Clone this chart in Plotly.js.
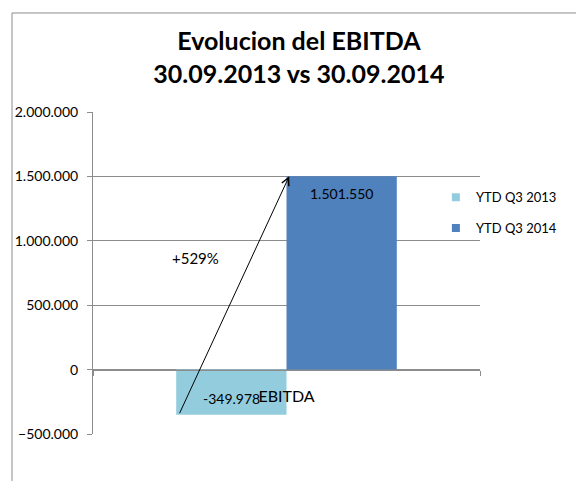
<!DOCTYPE html>
<html>
<head>
<meta charset="utf-8">
<script src="https://cdn.plot.ly/plotly-3.0.1.min.js"></script>
<style>html,body{margin:0;padding:0;background:#fff;}#chart{width:576px;height:481px;}</style>
</head>
<body>
<div id="chart"></div>
<script>
// ---- data ----
var categories = ['EBITDA'];
var seriesNames = ['YTD Q3 2013', 'YTD Q3 2014'];
var ytd2013 = [-349978];
var ytd2014 = [1501550];
var yTickVals = [-500000, 0, 500000, 1000000, 1500000, 2000000];
var titleLines = ['Evolucion del EBITDA', '30.09.2013 vs 30.09.2014'];

// ---- styling ----
var colors = ['#93CDDD', '#4F81BD'];
var gridColor = '#8c8c8c';
var FONT = 'Lato, "Open Sans", sans-serif';
var bargap = 0.43;

function fmt(v) {
  var s = Math.abs(v).toString().replace(/\B(?=(\d{3})+(?!\d))/g, '.');
  return (v < 0 ? '-' : '') + s;
}

var series = [ytd2013, ytd2014];
var traces = [];
series.forEach(function (vals, i) {
  traces.push({
    type: 'bar', x: categories, y: vals, name: seriesNames[i],
    marker: {color: colors[i], line: {width: 0}},
    showlegend: false, hoverinfo: 'skip'
  });
});
// legend entries (small square swatches)
series.forEach(function (vals, i) {
  traces.push({
    type: 'scatter', mode: 'markers', x: [null], y: [null], name: seriesNames[i],
    legendgroup: 'g' + i,
    marker: {symbol: 'square', size: 8, color: colors[i]},
    hoverinfo: 'skip'
  });
});

// data labels, placed at the bar centres
var barW = (1 - bargap) / series.length;
var annotations = [];
series.forEach(function (vals, i) {
  vals.forEach(function (v, k) {
    annotations.push({
      x: k - (1 - bargap) / 2 + barW * (i + 0.5), y: v, xref: 'x', yref: 'y',
      text: fmt(v), showarrow: false, xanchor: 'center', yanchor: 'middle',
      yshift: v >= 0 ? -17 : 16,
      font: {family: FONT, size: 14, color: '#000'}
    });
  });
});

// growth arrow from the 2013 bar bottom to the 2014 bar top
var growth = Math.round((ytd2014[0] - ytd2013[0]) / Math.abs(ytd2013[0]) * 100);
annotations.push({
  x: 0.007, y: ytd2014[0], xref: 'x', yref: 'y',
  ax: -0.278, ay: ytd2013[0], axref: 'x', ayref: 'y',
  showarrow: true, arrowhead: 5, arrowsize: 1.5, arrowwidth: 1, arrowcolor: '#000',
  standoff: 0, startstandoff: 0, text: ''
});
annotations.push({
  x: 0.266, y: 0.5466, xref: 'paper', yref: 'paper',
  xanchor: 'center', yanchor: 'middle',
  text: '+' + growth + '%', showarrow: false,
  font: {family: FONT, size: 15, color: '#000'}
});

var layout = {
  width: 576, height: 481,
  margin: {l: 93, r: 96, t: 112, b: 47},
  paper_bgcolor: '#fff', plot_bgcolor: '#fff',
  separators: ',.',
  barmode: 'group', bargap: bargap, bargroupgap: 0,
  title: {
    text: titleLines.join('<br>'),
    font: {family: FONT, size: 25, color: '#000', weight: 'bold'},
    xref: 'paper', x: 0.532, xanchor: 'center',
    yref: 'container', y: 1 - 50 / 481, yanchor: 'top'
  },
  xaxis: {
    type: 'category', range: [-0.5, 0.5], fixedrange: true,
    anchor: 'free', position: 0.2,
    showline: true, linecolor: gridColor, linewidth: 1,
    ticks: 'outside', tickson: 'boundaries', ticklen: 5, tickcolor: gridColor,
    showgrid: false, zeroline: false,
    ticklabelstandoff: 12,
    tickfont: {family: FONT, size: 16, color: '#000'}
  },
  yaxis: {
    range: [-500000, 2000000], tickvals: yTickVals, tickformat: ',d',
    showline: true, linecolor: gridColor, linewidth: 1,
    ticks: 'outside', ticklen: 5, tickcolor: gridColor,
    showgrid: true, gridcolor: gridColor, gridwidth: 1,
    zeroline: true, zerolinecolor: gridColor, zerolinewidth: 1,
    ticklabelstandoff: 6,
    tickfont: {family: FONT, size: 14, color: '#000'}
  },
  legend: {
    x: 0.886, xanchor: 'left', y: 0.782, yanchor: 'top',
    bgcolor: 'rgba(0,0,0,0)', borderwidth: 0,
    tracegroupgap: 11,
    font: {family: FONT, size: 13, color: '#000'}
  },
  shapes: [{
    type: 'rect', xref: 'paper', yref: 'paper',
    x0: -0.2093, x1: 1.5, y0: -0.5, y1: 1.3075,
    line: {color: '#8c8c8c', width: 1}, fillcolor: 'rgba(0,0,0,0)', layer: 'below'
  }],
  annotations: annotations
};

Plotly.newPlot('chart', traces, layout, {displayModeBar: false, staticPlot: true});
</script>
</body>
</html>
